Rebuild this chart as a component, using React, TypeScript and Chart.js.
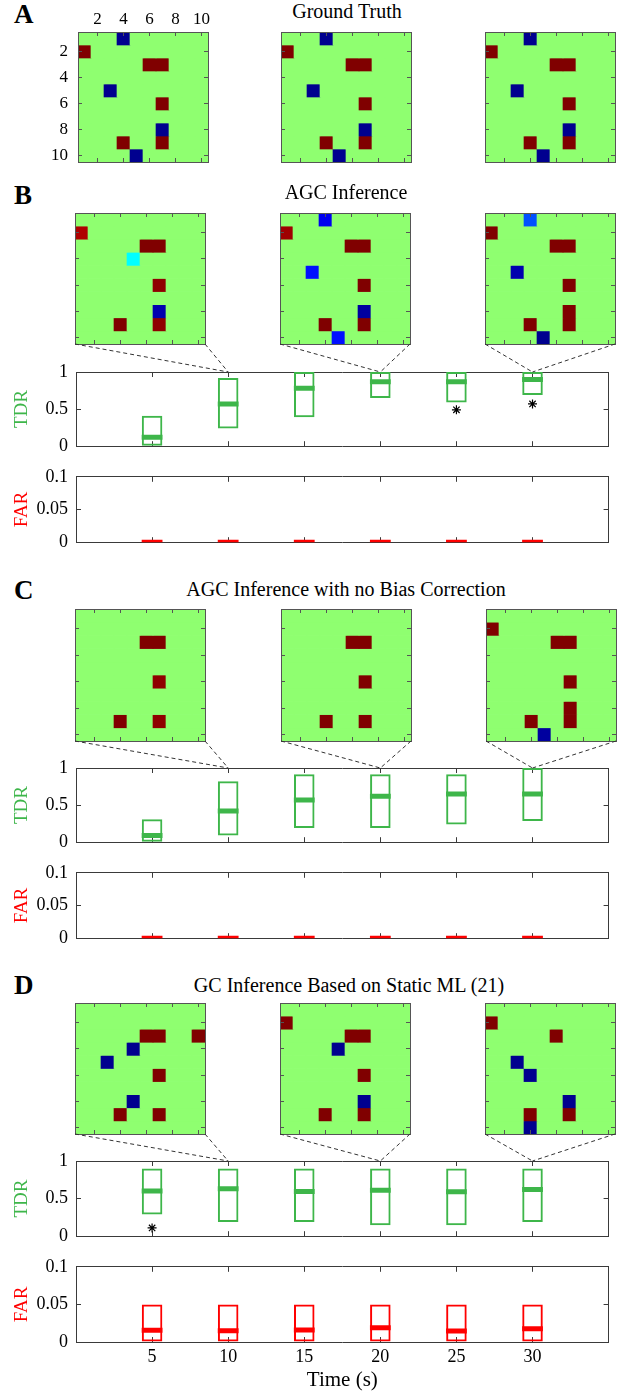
import React, { useEffect, useRef } from 'react';
import { Chart, registerables } from 'chart.js';

Chart.register(...registerables);

type Cell = [number, number, number]; // [row, column, value]

// ---------------- data ----------------
const timePoints = [5, 10, 15, 20, 25, 30];
const timeTickLabels = ['5', '10', '15', '20', '25', '30'];
const zoomTimes = [10, 20, 30];
const tdrTicks = [0, 0.5, 1];
const tdrTickLabels = ['0', '0.5', '1'];
const farTicks = [0, 0.05, 0.1];
const farTickLabels = ['0', '0.05', '0.1'];
const matrixIndex = [1, 2, 3, 4, 5, 6, 7, 8, 9, 10];
const matrixTicks = [2, 4, 6, 8, 10];
const matrixTickLabels = ['2', '4', '6', '8', '10'];

// non-zero matrix entries, everything else is 0
const groundTruth: Cell[] = [[1, 4, -1], [2, 1, 1], [3, 6, 1], [3, 7, 1], [5, 3, -1], [6, 7, 1], [8, 7, -1], [9, 4, 1], [9, 7, 1], [10, 5, -1]];
const agcT10: Cell[] = [[2, 1, 0.9], [3, 6, 1], [3, 7, 1], [4, 5, -0.27], [6, 7, 0.97], [8, 7, -0.94], [9, 4, 1], [9, 7, 0.97]];
const agcT20: Cell[] = [[1, 4, -0.8], [2, 1, 0.95], [3, 6, 1], [3, 7, 1], [5, 3, -0.75], [6, 7, 1], [8, 7, -0.97], [9, 4, 1], [9, 7, 1], [10, 5, -0.75]];
const agcT30: Cell[] = [[1, 4, -0.62], [2, 1, 1], [3, 6, 1], [3, 7, 1], [5, 3, -0.94], [6, 7, 1], [8, 7, 1], [9, 4, 1], [9, 7, 1], [10, 5, -1]];
const noBiasT10: Cell[] = [[3, 6, 1], [3, 7, 1], [6, 7, 0.97], [9, 4, 1], [9, 7, 0.97]];
const noBiasT20: Cell[] = [[3, 6, 1], [3, 7, 1], [6, 7, 1], [9, 4, 1], [9, 7, 1]];
const noBiasT30: Cell[] = [[2, 1, 1], [3, 6, 1], [3, 7, 1], [6, 7, 1], [8, 7, 1], [9, 4, 1], [9, 7, 1], [10, 5, -0.97]];
const staticT10: Cell[] = [[3, 6, 1], [3, 7, 1], [3, 10, 1], [4, 5, -1], [5, 3, -1], [6, 7, 1], [8, 5, -1], [9, 4, 1], [9, 7, 1]];
const staticT20: Cell[] = [[2, 1, 1], [3, 6, 1], [3, 7, 1], [4, 5, -1], [6, 7, 1], [8, 7, -1], [9, 4, 1], [9, 7, 1]];
const staticT30: Cell[] = [[2, 1, 1], [3, 6, 1], [5, 3, -1], [6, 4, -1], [8, 7, -1], [9, 4, 1], [9, 7, 1], [10, 4, -1]];

// box plots (lower quartile, upper quartile, median, outliers)
const agcTdrQ1 = [0, 0.24, 0.39, 0.65, 0.59, 0.69];
const agcTdrQ3 = [0.41, 0.92, 1, 1, 1, 1];
const agcTdrMedian = [0.12, 0.57, 0.78, 0.87, 0.87, 0.9];
const agcTdrOutlierTimes = [25, 30];
const agcTdrOutlierValues = [0.49, 0.57];
const agcFarQ1 = [0, 0, 0, 0, 0, 0];
const agcFarQ3 = [0, 0, 0, 0, 0, 0];
const agcFarMedian = [0, 0, 0, 0, 0, 0];

const noBiasTdrQ1 = [0, 0.09, 0.19, 0.19, 0.24, 0.285];
const noBiasTdrQ3 = [0.31, 0.82, 0.915, 0.915, 0.915, 1];
const noBiasTdrMedian = [0.09, 0.42, 0.57, 0.62, 0.65, 0.65];
const noBiasFarQ1 = [0, 0, 0, 0, 0, 0];
const noBiasFarQ3 = [0, 0, 0, 0, 0, 0];
const noBiasFarMedian = [0, 0, 0, 0, 0, 0];

const staticTdrQ1 = [0.29, 0.19, 0.19, 0.145, 0.145, 0.19];
const staticTdrQ3 = [0.9, 0.9, 0.9, 0.9, 0.9, 0.9];
const staticTdrMedian = [0.6, 0.63, 0.595, 0.61, 0.59, 0.62];
const staticTdrOutlierTimes = [5];
const staticTdrOutlierValues = [0.11];
const staticFarQ1 = [0, 0, 0, 0, 0, 0];
const staticFarQ3 = [0.05, 0.05, 0.05, 0.05, 0.05, 0.05];
const staticFarMedian = [0.0157, 0.0149, 0.016, 0.0188, 0.0145, 0.0176];

// ---------------- style / layout ----------------
const SERIF = "'Liberation Serif', 'Times New Roman', Times, serif";
const FRAME = '#3a3a3a';
const MAP_FRAME = '#555555';
const GREEN = 'rgb(62,182,74)';
const RED = 'rgb(255,0,0)';
const HM_PAD = 30;
const PLOT_LEFT = 76;
const PLOT_RIGHT = 615;
const PAGE_W = 624;
const PAGE_H = 1393;
const MAP_W = 130;

function jet(v: number): string {
  const row = 1 + Math.round(((v + 1) / 2) * 63);
  const r = row <= 24 ? 0 : row <= 40 ? (row - 24) / 16 : row <= 56 ? 1 : (72 - row) / 16;
  const g = row <= 8 ? 0 : row <= 24 ? (row - 8) / 16 : row <= 40 ? 1 : row <= 56 ? (56 - row) / 16 : 0;
  const b = row <= 8 ? (row + 8) / 16 : row <= 24 ? 1 : row <= 40 ? (40 - row) / 16 : 0;
  return `rgb(${Math.round(r * 255)},${Math.round(g * 255)},${Math.round(b * 255)})`;
}

function axis(o: any) {
  const horizontal = o.position === 'top' || o.position === 'bottom';
  const frame = o.frame || FRAME;
  const z = o.z ?? 0;
  return {
    type: 'linear',
    position: o.position,
    min: o.min,
    max: o.max,
    reverse: !!o.reverse,
    offset: false,
    afterBuildTicks: (s: any) => {
      s.ticks = o.ticks.map((v: number) => ({ value: v }));
    },
    afterFit: (s: any) => {
      if (horizontal) s.height = o.size;
      else s.width = o.size;
    },
    grid: {
      display: true,
      drawOnChartArea: false,
      drawTicks: true,
      tickLength: -o.tick,
      tickWidth: 1,
      tickColor: frame,
      color: frame,
      lineWidth: 1,
      offset: false,
      z: z > 0 ? z : -1,
    },
    border: { display: true, color: frame, width: 1, z },
    ticks: {
      display: !!o.labels,
      autoSkip: false,
      maxRotation: 0,
      minRotation: 0,
      padding: o.padding ?? 0,
      color: '#000',
      font: { family: SERIF, size: o.fontSize ?? 18 },
      callback: (_v: any, i: number) => (o.labels ? o.labels[i] : ''),
    },
    title: o.title
      ? {
          display: true,
          text: o.title.text,
          color: o.title.color,
          font: { family: SERIF, size: o.title.size },
          padding: o.title.padding,
        }
      : { display: false },
  };
}

function heatmapConfig(cells: Cell[], withLabels: boolean): any {
  const grid = matrixIndex.map(() => matrixIndex.map(() => 0));
  cells.forEach(([r, c, v]) => {
    grid[r - 1][c - 1] = v;
  });
  const common = { min: 0.5, max: 10.5, ticks: matrixTicks, size: HM_PAD, tick: 4, z: 1, frame: MAP_FRAME, fontSize: 17 };
  return {
    type: 'bar',
    data: {
      datasets: matrixIndex.map((r) => ({
        data: matrixIndex.map((c) => ({ x: c, y: [r - 0.5, r + 0.5] })),
        backgroundColor: matrixIndex.map((c) => jet(grid[r - 1][c - 1])),
        borderWidth: 0,
        grouped: false,
        barPercentage: 1,
        categoryPercentage: 1,
        xAxisID: 'x',
        yAxisID: 'y',
      })),
    },
    options: {
      responsive: false,
      animation: false,
      devicePixelRatio: 1,
      events: [],
      layout: { padding: 0 },
      plugins: { legend: { display: false }, tooltip: { enabled: false } },
      scales: {
        x: axis({ ...common, position: 'bottom' }),
        x2: axis({ ...common, position: 'top', labels: withLabels ? matrixTickLabels : undefined, padding: 6 }),
        y: axis({ ...common, position: 'left', reverse: true, labels: withLabels ? matrixTickLabels : undefined, padding: 14 }),
        y2: axis({ ...common, position: 'right', reverse: true }),
      },
    },
  };
}

function boxConfig(o: any): any {
  const boxes = timePoints
    .map((t, i) => ({ x: t, y: [o.q1[i], o.q3[i]] }))
    .filter((d) => d.y[1] > d.y[0]);
  const outliers = (o.outT || []).map((t: number, i: number) => ({ x: t, y: o.outV[i] }));
  const plugins: any[] = [];
  if (o.corners) {
    plugins.push({
      id: 'zoomLines',
      afterDatasetsDraw(chart: any) {
        const ctx = chart.ctx;
        const xs = chart.scales.x;
        const top = chart.chartArea.top;
        ctx.save();
        ctx.setLineDash([4, 3]);
        ctx.strokeStyle = '#333';
        ctx.lineWidth = 1;
        zoomTimes.forEach((t, i) => {
          const px = xs.getPixelForValue(t);
          const [l, r] = o.corners[i];
          ctx.beginPath();
          ctx.moveTo(l, o.cornerY);
          ctx.lineTo(px, top);
          ctx.moveTo(r, o.cornerY);
          ctx.lineTo(px, top);
          ctx.stroke();
        });
        ctx.restore();
      },
    });
  }
  return {
    type: 'bar',
    data: {
      datasets: [
        {
          type: 'bar',
          data: boxes,
          backgroundColor: 'rgba(0,0,0,0)',
          borderColor: o.color,
          borderWidth: 2,
          borderSkipped: false,
          barPercentage: 0.27,
          categoryPercentage: 1,
          xAxisID: 'x',
          yAxisID: 'y',
        },
        {
          type: 'scatter',
          data: timePoints.map((t, i) => ({ x: t, y: o.med[i] })),
          pointStyle: 'line',
          pointRadius: 10.4,
          pointBorderWidth: 5,
          pointBorderColor: o.color,
          pointBackgroundColor: o.color,
          borderColor: o.color,
          showLine: false,
          clip: 0,
          xAxisID: 'x',
          yAxisID: 'y',
        },
        {
          type: 'scatter',
          data: outliers,
          pointStyle: 'star',
          pointRadius: 4.5,
          pointBorderWidth: 1.2,
          pointBorderColor: '#000',
          borderColor: '#000',
          showLine: false,
          xAxisID: 'x',
          yAxisID: 'y',
        },
      ],
    },
    options: {
      responsive: false,
      animation: false,
      devicePixelRatio: 1,
      events: [],
      layout: { padding: { left: 0, right: PAGE_W - PLOT_RIGHT, top: o.padTop, bottom: o.padBottom } },
      plugins: { legend: { display: false }, tooltip: { enabled: false } },
      scales: {
        x: axis({
          position: 'bottom', min: 0, max: 35, ticks: timePoints, size: o.xHeight, tick: 5,
          labels: o.xLabels ? timeTickLabels : undefined, padding: 9, fontSize: 18,
          title: o.xLabels ? { text: 'Time (s)', color: '#000', size: 21, padding: { top: 0, bottom: 0 } } : undefined,
        }),
        x2: axis({ position: 'top', min: 0, max: 35, ticks: timePoints, size: 0, tick: 5 }),
        y: axis({
          position: 'left', min: 0, max: o.yMax, ticks: o.yTicks, labels: o.yLabels, size: PLOT_LEFT, tick: 5,
          padding: 13, fontSize: 18,
          title: { text: o.title, color: o.color, size: 19, padding: { top: 11, bottom: 0 } },
        }),
        y2: axis({ position: 'right', min: 0, max: o.yMax, ticks: o.yTicks, size: 0, tick: 5 }),
      },
    },
    plugins,
  };
}

function ChartCanvas({ left, top, width, height, build }: any) {
  const ref = useRef<HTMLCanvasElement>(null);
  useEffect(() => {
    const chart = new Chart(ref.current as HTMLCanvasElement, build());
    return () => chart.destroy();
  }, []);
  return (
    <canvas
      ref={ref}
      width={width}
      height={height}
      style={{ position: 'absolute', left, top, width, height }}
    />
  );
}

const panels: any[] = [
  {
    letter: 'A', letterTop: 0.7, title: 'Ground Truth', titleTop: 0.5, titleX: 347,
    mapY: 32, mapH: 130, mapXs: [78, 281, 485], maps: [groundTruth, groundTruth, groundTruth],
  },
  {
    letter: 'B', letterTop: 182.4, title: 'AGC Inference', titleTop: 181.5, titleX: 346,
    mapY: 213, mapH: 131, mapXs: [75, 280, 485], maps: [agcT10, agcT20, agcT30],
    tdr: [372, 456], far: [467, 552],
    tdrData: { q1: agcTdrQ1, q3: agcTdrQ3, med: agcTdrMedian, outT: agcTdrOutlierTimes, outV: agcTdrOutlierValues },
    farData: { q1: agcFarQ1, q3: agcFarQ3, med: agcFarMedian },
  },
  {
    letter: 'C', letterTop: 577.4, title: 'AGC Inference with no Bias Correction', titleTop: 579, titleX: 346,
    mapY: 609, mapH: 132, mapXs: [75, 281, 486], maps: [noBiasT10, noBiasT20, noBiasT30],
    tdr: [768, 852], far: [863, 948],
    tdrData: { q1: noBiasTdrQ1, q3: noBiasTdrQ3, med: noBiasTdrMedian },
    farData: { q1: noBiasFarQ1, q3: noBiasFarQ3, med: noBiasFarMedian },
  },
  {
    letter: 'D', letterTop: 972.4, title: 'GC Inference Based on Static ML (21)', titleTop: 975, titleX: 349,
    mapY: 1003, mapH: 131, mapXs: [75, 280, 485], maps: [staticT10, staticT20, staticT30],
    tdr: [1161, 1246], far: [1257, 1342], last: true,
    tdrData: { q1: staticTdrQ1, q3: staticTdrQ3, med: staticTdrMedian, outT: staticTdrOutlierTimes, outV: staticTdrOutlierValues },
    farData: { q1: staticFarQ1, q3: staticFarQ3, med: staticFarMedian },
  },
];

export default function App() {
  return (
    <div
      style={{
        position: 'absolute', left: 0, top: 0, width: PAGE_W, height: PAGE_H,
        background: '#fff', overflow: 'hidden', fontFamily: SERIF, color: '#000',
      }}
    >
      {panels.map((p) => {
        const mapBottom = p.mapY + p.mapH;
        const tdrTop = mapBottom - 2;
        const farTop = p.far ? p.far[0] - 14 : 0;
        const farBottomExtra = p.last ? PAGE_H - p.far?.[1] : 14;
        return (
          <React.Fragment key={p.letter}>
            <div
              style={{
                position: 'absolute', left: 14, top: p.letterTop, fontSize: 27, lineHeight: '27px',
                fontWeight: 'bold', whiteSpace: 'nowrap',
              }}
            >
              {p.letter}
            </div>
            <div
              style={{
                position: 'absolute', left: p.titleX, top: p.titleTop, fontSize: 20, lineHeight: '20px',
                transform: 'translateX(-50%)', whiteSpace: 'nowrap',
              }}
            >
              {p.title}
            </div>
            {p.maps.map((cells: Cell[], i: number) => (
              <ChartCanvas
                key={'m' + i}
                left={p.mapXs[i] - HM_PAD}
                top={p.mapY - HM_PAD}
                width={MAP_W + 2 * HM_PAD}
                height={p.mapH + 2 * HM_PAD}
                build={() => heatmapConfig(cells, p.letter === 'A' && i === 0)}
              />
            ))}
            {p.tdr && (
              <ChartCanvas
                left={0}
                top={tdrTop}
                width={PAGE_W}
                height={p.tdr[1] + 14 - tdrTop}
                build={() =>
                  boxConfig({
                    ...p.tdrData,
                    yMax: 1, yTicks: tdrTicks, yLabels: tdrTickLabels, color: GREEN, title: 'TDR',
                    padTop: p.tdr[0] - tdrTop, padBottom: 14, xHeight: 0,
                    corners: p.mapXs.map((x: number) => [x, x + MAP_W]), cornerY: mapBottom - tdrTop,
                  })
                }
              />
            )}
            {p.far && (
              <ChartCanvas
                left={0}
                top={farTop}
                width={PAGE_W}
                height={p.far[1] + farBottomExtra - farTop}
                build={() =>
                  boxConfig({
                    ...p.farData,
                    yMax: 0.1, yTicks: farTicks, yLabels: farTickLabels, color: RED, title: 'FAR',
                    padTop: p.far[0] - farTop, padBottom: p.last ? 0 : 14,
                    xHeight: p.last ? farBottomExtra : 0, xLabels: !!p.last,
                  })
                }
              />
            )}
          </React.Fragment>
        );
      })}
    </div>
  );
}
